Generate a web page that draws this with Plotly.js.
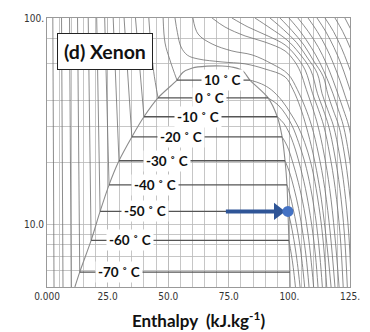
<!DOCTYPE html>
<html><head><meta charset="utf-8">
<script src="https://cdn.plot.ly/plotly-3.0.1.min.js"></script>
<style>html,body{margin:0;padding:0;background:#fff;}#chart{width:370px;height:332px;}</style>
</head><body><div id="chart"></div>
<script>
// ---- Data (enthalpy kJ/kg, pressure bar) ----
const domeH = [11.5, 13.5, 18.2, 21.9, 25.6, 29.7, 35.0, 40.0, 45.8, 53.6, 56.0, 60.0, 66.0, 72.2, 77.0, 80.8, 83.7, 91.2, 95.0, 97.0, 98.2, 99.0, 99.4, 99.8, 100.2, 100.3];
const domeP = [5.0, 5.9, 8.4, 11.6, 15.6, 20.4, 26.6, 33.3, 41.1, 50.1, 54.5, 57.3, 58.5, 58.6, 57.7, 55.5, 50.1, 41.1, 33.3, 26.6, 20.4, 15.6, 11.6, 8.4, 5.9, 5.0];

const isoNames = ['10', '0', '-10', '-20', '-30', '-40', '-50', '-60', '-70'];
const isoP     = [50.1, 41.1, 33.3, 26.6, 20.4, 15.6, 11.6, 8.4, 5.9];
const isoLiqH  = [53.6, 45.8, 40.0, 35.0, 29.7, 25.6, 21.9, 18.2, 13.5];
const isoVapH  = [83.7, 91.2, 95.0, 97.0, 98.2, 99.0, 99.4, 99.8, 100.2];

const liqIsoH = [[2.9,2.4],[6.6,6.0],[10.0,9.3],[13.5,12.6],[18.2,17.0],[21.9,20.5],[25.6,23.8],[29.7,27.3],[35.0,31.8],[40.0,36.5],[45.8,44.0,42.8,42.0],[53.6,50.7,48.7,47.9]];
const liqIsoP = [[5,100],[5,100],[5,100],[5.9,100],[8.4,100],[11.6,100],[15.6,100],[20.4,100],[26.6,100],[33.3,100],[41.1,55,75,100],[50.1,62.7,75.7,100]];

const vapIsoH = [
 [99.8,100.8,101.6,102.5],
 [99.4,100.7,102.2,103.3,104.4],
 [99.0,100.2,101.5,102.9,104.3,105.3,106.3],
 [98.2,100.0,101.9,103.8,105.6,106.9,108.1],
 [97.0,99.1,101.4,103.7,106.0,107.7,108.8,110.0],
 [95.0,97.6,99.8,102.0,104.0,106.6,109.2,110.8,111.8],
 [91.2,95.3,98.6,101.2,103.8,106.4,108.8,111.2,112.6,113.6],
 [83.7,88.5,92.5,96.8,100.2,103.5,106.3,108.8,111.0,113.2,114.5,115.4],
 [52.8,53.8,55.3,58.0,62.3,72.2,81.7,89.9,98.2,101.5,104.5,106.9,109.8,112.5,115.0,117.2],
 [60.2,62.3,68.1,76.3,84.6,92.8,99.4,103.3,106.5,109.2,112.0,114.6,116.9,118.8],
 [68.1,73.4,81.7,89.9,98.2,102.0,104.5,107.0,109.5,111.8,114.3,116.6,118.7,120.5],
 [76.3,82.9,91.2,98.2,102.7,106.5,109.6,112.0,114.2,116.6,118.9,120.9,122.2],
 [85.8,92.0,99.0,104.0,108.8,111.6,114.0,116.2,118.6,120.8,122.7,123.9],
 [92.0,97.5,103.0,107.5,111.5,113.5,115.8,118.2,120.6,122.7,124.5,125.5],
 [96.1,101.0,106.0,110.0,114.0,115.8,118.0,120.4,122.7,124.6,126.3,127.3],
 [99.8,104.5,109.0,112.5,115.5,118.0,120.2,122.3,124.5,126.4],
 [103.5,107.8,112.0,115.3,118.0,120.3,122.3,124.5,126.6],
 [107.7,111.5,115.2,118.2,120.8,123.0,124.9,126.8],
 [111.4,115.0,118.4,121.3,123.7,125.8],
 [114.7,118.2,121.4,124.1,126.5],
 [118.8,122.0,125.0,127.6],
 [122.9,125.8]
];
const vapIsoP = [
 [8.4,7.2,6.2,5],
 [11.6,10,8,6.5,5],
 [15.6,14,12,10,8,6.5,5],
 [20.4,18,15,12,9,7,5],
 [26.6,24,20,16,12,9,7,5],
 [33.3,31,28,24,20,15,10,7,5],
 [41.1,38,34,30,25,20,15,10,7,5],
 [50.1,48,45,40,35,30,25,20,15,10,7,5],
 [100,85,72.4,66,63.4,61.3,60,56.7,51.9,45,37,30,22,15,9,5],
 [100,83.7,74.9,69.3,66.3,60,53.6,45,37,30,22,15,9,5],
 [100,90.5,81.9,76.5,69.3,62,55,45,37,30,22,15,9,5],
 [100,90.5,81.8,74.1,65.5,56,43,36,30,22,15,9,5],
 [100,89.5,78.3,67.7,56,43,36,30,22,15,9,5],
 [100,88,76,64,54,43,36,30,22,15,9,5],
 [100,87,74,62,52,43,36,30,22,15,9,5],
 [100,86,72,61,51,43,36,30,22,15],
 [100,86,72,60,50,42,36,30,22],
 [100,86,72,60,50,42,36,30],
 [100,86,72,60,50,42],
 [100,86,72,60,50],
 [100,86,72,60],
 [100,86]
];

const criticalH = [-0.8];
const criticalP = [59.0];
const stateH = [99.4];
const stateP = [11.6];
const arrowStartH = 73.8;

const xTickVals = [0, 25, 50, 75, 100, 125];
const xTickText = ['0.000', '25.0', '50.0', '75.0', '100.', '125.'];
const yTickVals = [10, 100];
const yTickText = ['10.0', '100.'];
const yGridVals = [6, 7, 8, 9, 20, 30, 40, 60, 80];

// ---- Traces ----
const curveColor = '#6e6e6e';
const traces = [];
liqIsoH.forEach((h, i) => traces.push({x: h, y: liqIsoP[i], mode: 'lines', line: {color: curveColor, width: 0.8, shape: 'spline'}, hoverinfo: 'skip'}));
vapIsoH.forEach((h, i) => traces.push({x: h, y: vapIsoP[i], mode: 'lines', line: {color: curveColor, width: 0.8, shape: 'spline', smoothing: 1}, hoverinfo: 'skip'}));
traces.push({x: domeH, y: domeP, mode: 'lines', line: {color: '#8c8c8c', width: 1.1, shape: 'spline', smoothing: 0.8}, hoverinfo: 'skip'});
isoP.forEach((p, i) => traces.push({x: [isoLiqH[i], isoVapH[i]], y: [p, p], mode: 'lines', line: {color: '#555', width: 1.3}, hoverinfo: 'skip'}));
// arrow to the marked state point
const arrowColor = '#2F5597';
traces.push({x: [arrowStartH, stateH[0] - 4.5], y: [stateP[0], stateP[0]], mode: 'lines', line: {color: arrowColor, width: 4}, hoverinfo: 'skip'});
traces.push({x: [stateH[0] - 4.2], y: stateP, mode: 'markers', marker: {symbol: 'triangle-right', color: arrowColor, size: 15}, hoverinfo: 'skip'});
traces.push({x: stateH, y: stateP, mode: 'markers', marker: {color: '#4472C4', size: 11}, cliponaxis: false, hoverinfo: 'skip'});
traces.push({x: criticalH, y: criticalP, mode: 'markers', marker: {color: '#ee1c1c', size: 12}, cliponaxis: false, hoverinfo: 'skip'});

// ---- Annotations ----
const labelX = [72.6, 67.2, 62.3, 55.3, 49.5, 44.6, 40.6, 34.4, 29.5];
const annotations = isoNames.map((n, i) => ({
  x: labelX[i], y: Math.log10(isoP[i]), xref: 'x', yref: 'y', showarrow: false,
  xanchor: 'center', yanchor: 'middle',
  text: '<b>' + n + ' ˚ C</b>', font: {family: 'Lato', size: 13.5, color: '#111'},
  bgcolor: '#fff', borderpad: 2
}));
annotations.push({
  xref: 'paper', yref: 'paper', x: 0.193, y: 0.874, xanchor: 'center', yanchor: 'middle', showarrow: false,
  text: '<b>(d) Xenon</b>', font: {family: 'Lato', size: 19.5, color: '#111'},
  bgcolor: '#fff', bordercolor: '#222', borderwidth: 1, borderpad: 6
});

const tickFont = {family: 'Liberation Sans Narrow, DejaVu Sans Condensed, Arial Narrow, sans-serif', size: 10, color: '#333'};
const gridColor = '#b8b8b8';
const layout = {
  width: 370, height: 332,
  margin: {l: 47, r: 20, t: 18, b: 45},
  paper_bgcolor: '#fff', plot_bgcolor: '#fff', showlegend: false,
  xaxis: {
    range: [0, 125], tickmode: 'array', tickvals: xTickVals, ticktext: xTickText,
    showgrid: true, gridcolor: gridColor, gridwidth: 0.8, zeroline: false,
    showline: true, mirror: true, linecolor: '#999', linewidth: 1, ticks: '',
    tickfont: tickFont,
    minor: {tick0: 0, dtick: 5, showgrid: true, gridcolor: gridColor, gridwidth: 0.8, ticks: ''},
    title: {text: '<b>Enthalpy\u00a0\u00a0(kJ.kg<sup>-1</sup>)</b>', font: {family: 'Lato', size: 17, color: '#111'}, standoff: 14}
  },
  yaxis: {
    type: 'log', range: [Math.log10(5), 2], tickmode: 'array', tickvals: yTickVals, ticktext: yTickText,
    showgrid: true, gridcolor: gridColor, gridwidth: 0.8, zeroline: false,
    showline: true, mirror: true, linecolor: '#999', linewidth: 1, ticks: '',
    tickfont: tickFont,
    minor: {tickmode: 'array', tickvals: yGridVals, showgrid: true, gridcolor: gridColor, gridwidth: 0.8, ticks: ''}
  },
  annotations: annotations
};
Plotly.newPlot('chart', traces, layout, {staticPlot: true, displayModeBar: false});
</script></body></html>
